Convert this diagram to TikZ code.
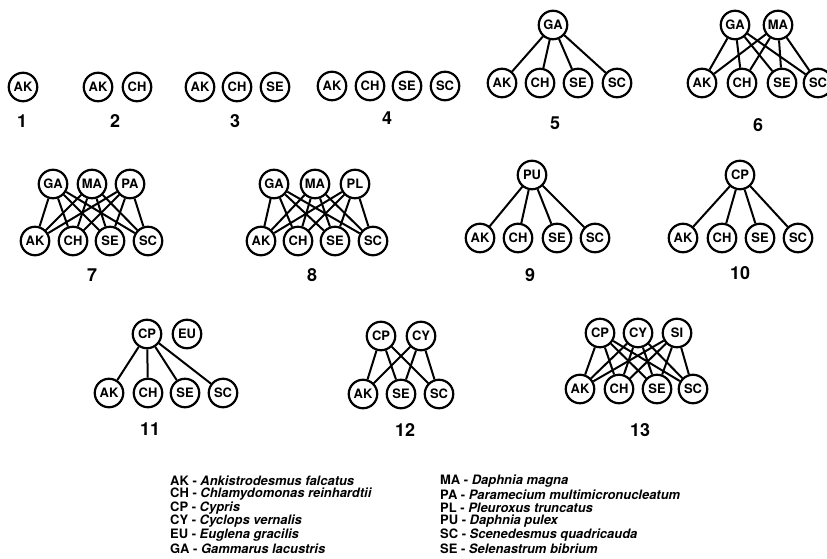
\documentclass[tikz,border=0pt]{standalone}
\usepackage{fontspec}
\setmainfont{TeX Gyre Heros}
\usepackage{tikz}
\usetikzlibrary{
  positioning,
}
\tikzstyle{sp} = [
  circle,
  draw,
  line width=2.2bp,
  minimum size=28.5bp,
  inner sep=0pt,
  font=\fontsize{13}{13}\selectfont\bfseries,
]
\tikzstyle{eat} = [
  line width=2bp,
]
\tikzstyle{webno} = [
  font=\fontsize{18}{18}\selectfont\bfseries,
]
\tikzstyle{key} = [
  anchor=west,
  inner sep=0pt,
  font=\fontsize{13}{13}\selectfont\bfseries,
]

\begin{document}
\begin{tikzpicture}[x=1bp, y=-1bp]
  \useasboundingbox (0,0) rectangle (827,559);
  % web 1
  \node[sp] (aAK) at (23,87) {AK};
  \node[webno] (n1) at (22,121) {1};
  % web 2
  \node[sp] (bAK) at (98,87) {AK};
  \node[sp] (bCH) at (137,87) {CH};
  \node[webno] (n2) at (115,121) {2};
  % web 3
  \node[sp] (cAK) at (200,87) {AK};
  \node[sp] (cCH) at (237,87) {CH};
  \node[sp] (cSE) at (275,87) {SE};
  \node[webno] (n3) at (235,121) {3};
  % web 4
  \node[sp] (dAK) at (332,86) {AK};
  \node[sp] (dCH) at (370,86) {CH};
  \node[sp] (dSE) at (407,86) {SE};
  \node[sp] (dSC) at (445,86) {SC};
  \node[webno] (n4) at (387,118) {4};
  % web 5
  \node[sp] (eGA) at (553,25) {GA};
  \node[sp] (eAK) at (502,83) {AK};
  \node[sp] (eCH) at (540,83) {CH};
  \node[sp] (eSE) at (578,83) {SE};
  \node[sp] (eSC) at (617,83) {SC};
  \node[webno] (n5) at (555,123) {5};
  \foreach \b in {eAK,eCH,eSE,eSC} \draw[eat] (eGA) -- (\b);
  % web 6
  \node[sp] (fGA) at (735,25) {GA};
  \node[sp] (fMA) at (778,25) {MA};
  \node[sp] (fAK) at (702,83) {AK};
  \node[sp] (fCH) at (742,83) {CH};
  \node[sp] (fSE) at (782,83) {SE};
  \node[sp] (fSC) at (818,83) {SC};
  \node[webno] (n6) at (758,125) {6};
  \foreach \t in {fGA,fMA}
    \foreach \b in {fAK,fCH,fSE,fSC} \draw[eat] (\t) -- (\b);
  % web 7
  \node[sp] (gGA) at (53,184) {GA};
  \node[sp] (gMA) at (92,184) {MA};
  \node[sp] (gPA) at (130,184) {PA};
  \node[sp] (gAK) at (35,241) {AK};
  \node[sp] (gCH) at (73,241) {CH};
  \node[sp] (gSE) at (110,241) {SE};
  \node[sp] (gSC) at (148,241) {SC};
  \node[webno] (n7) at (92,275) {7};
  \foreach \t in {gGA,gMA,gPA}
    \foreach \b in {gAK,gCH,gSE,gSC} \draw[eat] (\t) -- (\b);
  % web 8
  \node[sp] (hGA) at (274,184) {GA};
  \node[sp] (hMA) at (315,184) {MA};
  \node[sp] (hPL) at (355,184) {PL};
  \node[sp] (hAK) at (261,241) {AK};
  \node[sp] (hCH) at (298,241) {CH};
  \node[sp] (hSE) at (335,241) {SE};
  \node[sp] (hSC) at (373,241) {SC};
  \node[webno] (n8) at (312,275) {8};
  \foreach \t in {hGA,hMA,hPL}
    \foreach \b in {hAK,hCH,hSE,hSC} \draw[eat] (\t) -- (\b);
  % web 9
  \node[sp] (iPU) at (532,175) {PU};
  \node[sp] (iAK) at (480,238) {AK};
  \node[sp] (iCH) at (518,238) {CH};
  \node[sp] (iSE) at (557,238) {SE};
  \node[sp] (iSC) at (595,238) {SC};
  \node[webno] (n9) at (530,275) {9};
  \foreach \b in {iAK,iCH,iSE,iSC} \draw[eat] (iPU) -- (\b);
  % web 10
  \node[sp] (jCP) at (740,175) {CP};
  \node[sp] (jAK) at (683,238) {AK};
  \node[sp] (jCH) at (722,238) {CH};
  \node[sp] (jSE) at (760,238) {SE};
  \node[sp] (jSC) at (798,238) {SC};
  \node[webno] (n10) at (740,273) {10};
  \foreach \b in {jAK,jCH,jSE,jSC} \draw[eat] (jCP) -- (\b);
  % web 11
  \node[sp] (kCP) at (147,334) {CP};
  \node[sp] (kEU) at (187,334) {EU};
  \node[sp] (kAK) at (109,393) {AK};
  \node[sp] (kCH) at (148,393) {CH};
  \node[sp] (kSE) at (185,393) {SE};
  \node[sp] (kSC) at (223,393) {SC};
  \node[webno] (n11) at (150,429) {11};
  \foreach \b in {kAK,kCH,kSE,kSC} \draw[eat] (kCP) -- (\b);
  % web 12
  \node[sp] (lCP) at (381,336) {CP};
  \node[sp] (lCY) at (421,336) {CY};
  \node[sp] (lAK) at (363,394) {AK};
  \node[sp] (lSE) at (401,394) {SE};
  \node[sp] (lSC) at (439,394) {SC};
  \node[webno] (n12) at (405,430) {12};
  \foreach \t in {lCP,lCY}
    \foreach \b in {lAK,lSE,lSC} \draw[eat] (\t) -- (\b);
  % web 13
  \node[sp] (mCP) at (600,333) {CP};
  \node[sp] (mCY) at (638,333) {CY};
  \node[sp] (mSI) at (677,333) {SI};
  \node[sp] (mAK) at (580,389) {AK};
  \node[sp] (mCH) at (619,389) {CH};
  \node[sp] (mSE) at (657,389) {SE};
  \node[sp] (mSC) at (693,389) {SC};
  \node[webno] (n13) at (640,430) {13};
  \foreach \t in {mCP,mCY,mSI}
    \foreach \b in {mAK,mCH,mSE,mSC} \draw[eat] (\t) -- (\b);
  % key
  \node[key] (kAKname) at (170,481) {AK - \textit{Ankistrodesmus falcatus}};
  \node[key] (kCHname) at (170,494.5) {CH - \textit{Chlamydomonas reinhardtii}};
  \node[key] (kCPname) at (170,508) {CP - \textit{Cypris}};
  \node[key] (kCYname) at (170,521.5) {CY - \textit{Cyclops vernalis}};
  \node[key] (kEUname) at (170,535) {EU - \textit{Euglena gracilis}};
  \node[key] (kGAname) at (170,548.5) {GA - \textit{Gammarus lacustris}};
  \node[key] (kMAname) at (440,481) {MA - \textit{Daphnia magna}};
  \node[key] (kPAname) at (440,494.5) {PA - \textit{Paramecium multimicronucleatum}};
  \node[key] (kPLname) at (440,508) {PL - \textit{Pleuroxus truncatus}};
  \node[key] (kPUname) at (440,521.5) {PU - \textit{Daphnia pulex}};
  \node[key] (kSCname) at (440,535) {SC - \textit{Scenedesmus quadricauda}};
  \node[key] (kSEname) at (440,548.5) {SE - \textit{Selenastrum bibrium}};
\end{tikzpicture}
\end{document}
